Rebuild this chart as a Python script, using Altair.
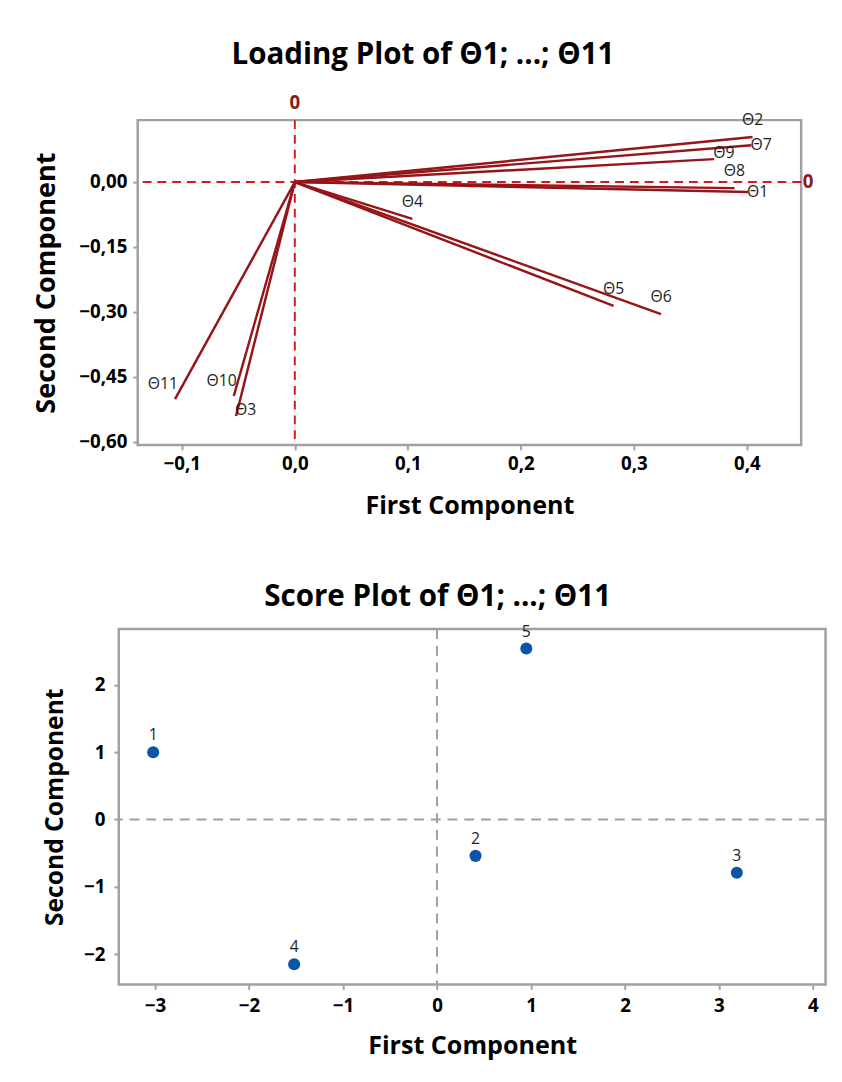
import altair as alt
import pandas as pd

# ---- Loading plot data ----
var_names = ["Θ1", "Θ2", "Θ3", "Θ4", "Θ5", "Θ6", "Θ7", "Θ8", "Θ9", "Θ10", "Θ11"]
load_pc1 = [0.401, 0.405, -0.052, 0.104, 0.282, 0.324, 0.404, 0.389, 0.371, -0.054, -0.106]
load_pc2 = [-0.023, 0.104, -0.540, -0.085, -0.286, -0.305, 0.085, -0.014, 0.053, -0.494, -0.501]

# ---- Score plot data ----
obs_names = ["1", "2", "3", "4", "5"]
score_pc1 = [-3.02, 0.41, 3.19, -1.52, 0.95]
score_pc2 = [1.00, -0.54, -0.79, -2.15, 2.54]

load_x_ticks = [-0.1, 0.0, 0.1, 0.2, 0.3, 0.4]
load_y_ticks = [0.0, -0.15, -0.30, -0.45, -0.60]
score_x_ticks = [-3, -2, -1, 0, 1, 2, 3, 4]
score_y_ticks = [-2, -1, 0, 1, 2]

FONT = "Open Sans"
LINE_RED = "#951519"
REF_RED = "#d7191c"
GRAY = "#a0a0a0"
BLUE = "#0a55a8"

load_df = pd.DataFrame({"name": var_names, "pc1": load_pc1, "pc2": load_pc2})
score_df = pd.DataFrame({"name": obs_names, "pc1": score_pc1, "pc2": score_pc2})
zero_df = pd.DataFrame({"v": [0.0], "t": ["0"]})

# label placement groups
above = ["Θ2", "Θ4", "Θ5", "Θ6", "Θ8"]
above_left = ["Θ10", "Θ11"]
right_mid = ["Θ1", "Θ7"]
right_up = ["Θ3", "Θ9"]

TW, TH = 674, 330
BW, BH = 718, 361


def extent_guide(left, right, h):
    # invisible horizontal rule that fixes each panel's layout extent
    return alt.Chart(zero_df).mark_rule(strokeOpacity=0, opacity=0).encode(
        x=alt.value(-left), x2=alt.value(right), y=alt.value(h / 2))


lx = alt.Scale(domain=[-0.139, 0.448], nice=False, zero=False)
ly = alt.Scale(domain=[-0.607, 0.143], nice=False, zero=False)

x_axis_top = alt.Axis(values=load_x_ticks, labelExpr="replace(format(datum.value, '.1f'), '.', ',')",
                      title="First Component", grid=False, titleFontSize=25.5, titlePadding=21)
y_axis_top = alt.Axis(values=load_y_ticks, labelExpr="replace(format(datum.value, '.2f'), '.', ',')",
                      title="Second Component", grid=False, titlePadding=19, titleFontSize=27.5,
                      labelPadding=6)

base = alt.Chart(load_df).transform_calculate(x0="0", y0="0")

vectors = base.mark_rule(color=LINE_RED, strokeWidth=2.5).encode(
    x=alt.X("x0:Q", scale=lx, axis=x_axis_top),
    y=alt.Y("y0:Q", scale=ly, axis=y_axis_top),
    x2="pc1:Q",
    y2="pc2:Q",
)

ref_v = alt.Chart(zero_df).mark_rule(color=REF_RED, strokeWidth=2, strokeDash=[9, 6]).encode(x="v:Q")
ref_h = alt.Chart(zero_df).mark_rule(color=REF_RED, strokeWidth=2, strokeDash=[9, 6]).encode(y="v:Q")
zero_top = alt.Chart(zero_df).mark_text(color="#8b1a1a", fontWeight="bold", fontSize=19, font=FONT).encode(
    x="v:Q", y=alt.value(-17), text="t:N")
zero_right = alt.Chart(zero_df).mark_text(color="#8b1a1a", fontWeight="bold", fontSize=19, font=FONT).encode(
    y="v:Q", x=alt.value(TW + 7), text="t:N")

lbl_style = dict(fontSize=16, font=FONT, color="#1e1e1e")


def labels(names, **kw):
    return base.transform_filter(alt.FieldOneOfPredicate(field="name", oneOf=names)).mark_text(
        **lbl_style, **kw).encode(x="pc1:Q", y="pc2:Q", text="name:N")


lab_above = labels(above, dy=-17, align="center")
lab_al = labels(above_left, dy=-15, dx=3, align="right")
lab_rm = labels(right_mid, dy=0, dx=-1, align="left")
lab_ru = labels(right_up, dy=-6, dx=-1, align="left")

top = alt.layer(extent_guide(105, 0, TH), ref_v, ref_h, vectors, zero_top, zero_right,
                lab_above, lab_al, lab_rm, lab_ru).properties(
    width=TW, height=TH,
    title=alt.Title("Loading Plot of Θ1; ...; Θ11", fontSize=30, font=FONT, fontWeight="bold",
                    anchor="middle", frame="bounds", offset=25, color="#000000"),
)

# ---- Score plot ----
sx = alt.Scale(domain=[-3.386, 4.134], nice=False, zero=False)
sy = alt.Scale(domain=[-2.45, 2.83], nice=False, zero=False)

sbase = alt.Chart(score_df)
pts = sbase.mark_circle(size=150, color=BLUE, opacity=1).encode(
    x=alt.X("pc1:Q", scale=sx, axis=alt.Axis(values=score_x_ticks, title="First Component", grid=False,
                                            format="d", titleFontSize=25.5, labelPadding=8, titlePadding=18)),
    y=alt.Y("pc2:Q", scale=sy, axis=alt.Axis(values=score_y_ticks, title="Second Component", grid=False,
                                            format="d", titlePadding=16, titleFontSize=25, labelPadding=9)),
)
plabels = sbase.mark_text(dy=-17, fontSize=16, font=FONT, color="#1e1e1e").encode(
    x="pc1:Q", y="pc2:Q", text="name:N")
sref_v = alt.Chart(zero_df).mark_rule(color=GRAY, strokeWidth=2, strokeDash=[10, 7]).encode(x="v:Q")
sref_h = alt.Chart(zero_df).mark_rule(color=GRAY, strokeWidth=2, strokeDash=[10, 7]).encode(y="v:Q")

bottom = alt.layer(extent_guide(77, BW + 6.9, BH), sref_v, sref_h, pts, plabels).properties(
    width=BW, height=BH,
    title=alt.Title("Score Plot of Θ1; ...; Θ11", fontSize=30, font=FONT, fontWeight="bold",
                    anchor="middle", frame="bounds", offset=12, color="#000000"),
)

chart = alt.vconcat(top, bottom, center=True, spacing=61).properties(
    padding={"left": 23.1, "top": 22.5, "right": 0, "bottom": 0}
).configure_view(
    stroke=GRAY, strokeWidth=2.5
).configure_axis(
    domain=False,
    tickColor=GRAY, tickWidth=2, tickSize=5,
    labelFont=FONT, labelFontSize=19, labelFontWeight="bold", labelColor="#000000", labelPadding=5,
    titleFont=FONT, titleFontWeight="bold", titleColor="#000000",
)

chart.save("out.html", embed_options={"renderer": "svg", "actions": False})
